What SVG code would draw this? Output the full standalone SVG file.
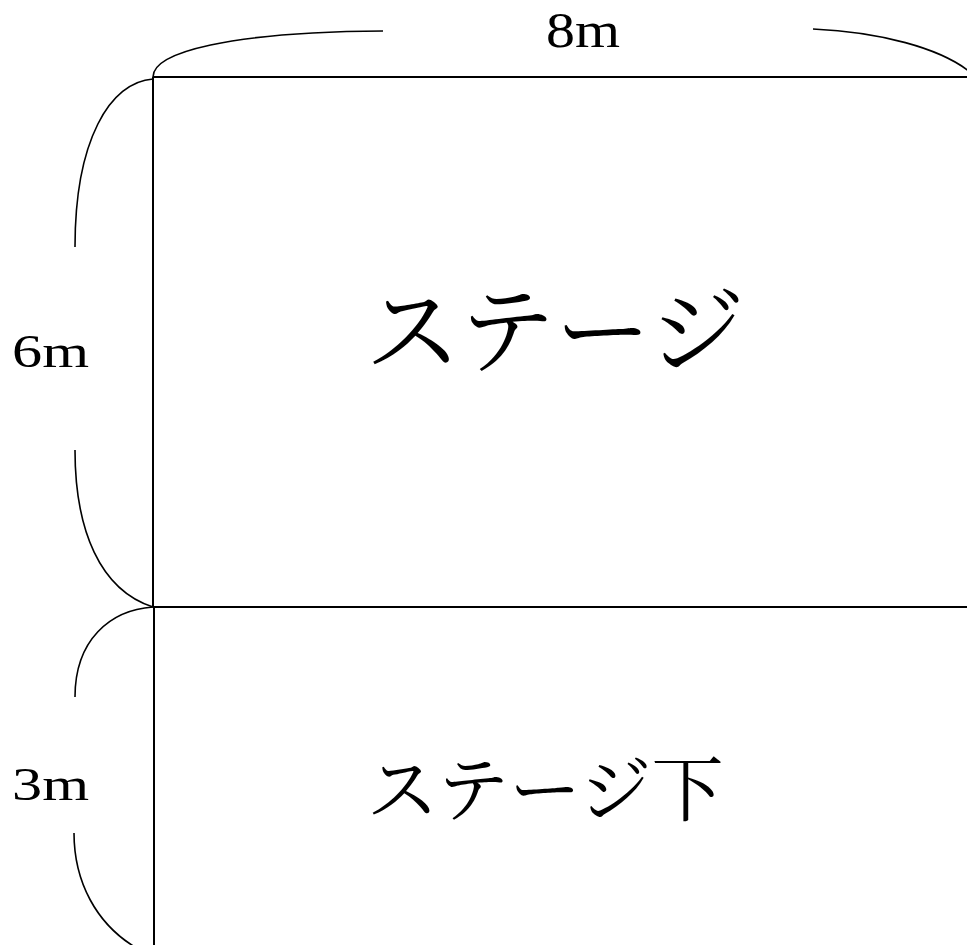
<svg xmlns="http://www.w3.org/2000/svg" width="967" height="945" viewBox="0 0 967 945">
<style>
.ln{fill:none;stroke:#000;stroke-width:2}
.br{fill:none;stroke:#000;stroke-width:1.6}
.dim{font-family:"Liberation Serif","Noto Serif CJK JP",serif;fill:#000}
.jp{font-family:"Noto Serif CJK JP","Noto Sans CJK JP",serif;fill:#000}
</style>
<rect width="967" height="945" fill="#fff"/>
<g id="stage">
<path class="ln" d="M153,77 H967 M153,77 V607"/>
<text class="jp" x="555" y="365" font-size="96" text-anchor="middle">ステージ</text>
</g>
<g id="under-stage">
<path class="ln" d="M153,607 H967 M154,607 V945"/>
<text class="jp" x="545" y="815" font-size="72" text-anchor="middle">ステージ下</text>
</g>
<g id="dimensions">
<path class="br" d="M153,77 C153,52 230,32 383,31"/>
<path class="br" d="M813,29 C880,32 940,48 970,72"/>
<path class="br" d="M153,79 C110,82 75,140 75,247"/>
<path class="br" d="M75,450 C75,530 100,590 153,607"/>
<path class="br" d="M153,607 C110,610 75,640 75,697"/>
<path class="br" d="M74,833 C74,880 95,925 140,950"/>
<text class="dim" x="546" y="47" font-size="50" textLength="74" lengthAdjust="spacingAndGlyphs">8m</text>
<text class="dim" x="12" y="367" font-size="47" textLength="77" lengthAdjust="spacingAndGlyphs">6m</text>
<text class="dim" x="12" y="800" font-size="47" textLength="77" lengthAdjust="spacingAndGlyphs">3m</text>
</g>
</svg>
